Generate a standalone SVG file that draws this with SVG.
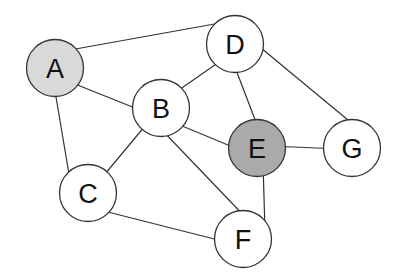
<svg xmlns="http://www.w3.org/2000/svg" width="405" height="272" viewBox="0 0 405 272">
<style>
.edge{stroke:#333;stroke-width:1.2;fill:none}
.node circle{stroke:#333;stroke-width:1.3;fill:#fff}
.node text{font-family:"Liberation Sans",Arial,sans-serif;font-size:27px;fill:#111;text-anchor:middle;dominant-baseline:central}
</style>
<rect width="405" height="272" fill="#fff"/>
<g id="connectors">
<line class="edge" x1="70" y1="50" x2="220" y2="23"/>
<line class="edge" x1="70" y1="82" x2="140" y2="110"/>
<line class="edge" x1="54" y1="85" x2="70" y2="180"/>
<line class="edge" x1="176" y1="92" x2="222" y2="60"/>
<line class="edge" x1="233" y1="62" x2="259" y2="130"/>
<line class="edge" x1="255" y1="43" x2="360" y2="130"/>
<line class="edge" x1="175" y1="123" x2="240" y2="150"/>
<line class="edge" x1="150" y1="120" x2="100" y2="180"/>
<line class="edge" x1="160" y1="128" x2="250" y2="222"/>
<line class="edge" x1="270" y1="146" x2="340" y2="149"/>
<line class="edge" x1="263" y1="164" x2="265" y2="230"/>
<line class="edge" x1="100" y1="210" x2="230" y2="243"/>
</g>
<g id="A" class="node"><circle cx="55" cy="68" r="28.5" style="fill:#d9d9d9"/><text x="55" y="69">A</text></g>
<g id="D" class="node"><circle cx="235" cy="44" r="28.5"/><text x="235" y="45">D</text></g>
<g id="B" class="node"><circle cx="161" cy="108" r="28.5"/><text x="161" y="109">B</text></g>
<g id="E" class="node"><circle cx="257" cy="148" r="28.5" style="fill:#aaaaaa"/><text x="257" y="149">E</text></g>
<g id="G" class="node"><circle cx="352" cy="148" r="28.5"/><text x="352" y="149">G</text></g>
<g id="C" class="node"><circle cx="88" cy="193" r="28.5"/><text x="88" y="194">C</text></g>
<g id="F" class="node"><circle cx="243" cy="239" r="28.5"/><text x="243" y="240">F</text></g>
</svg>
